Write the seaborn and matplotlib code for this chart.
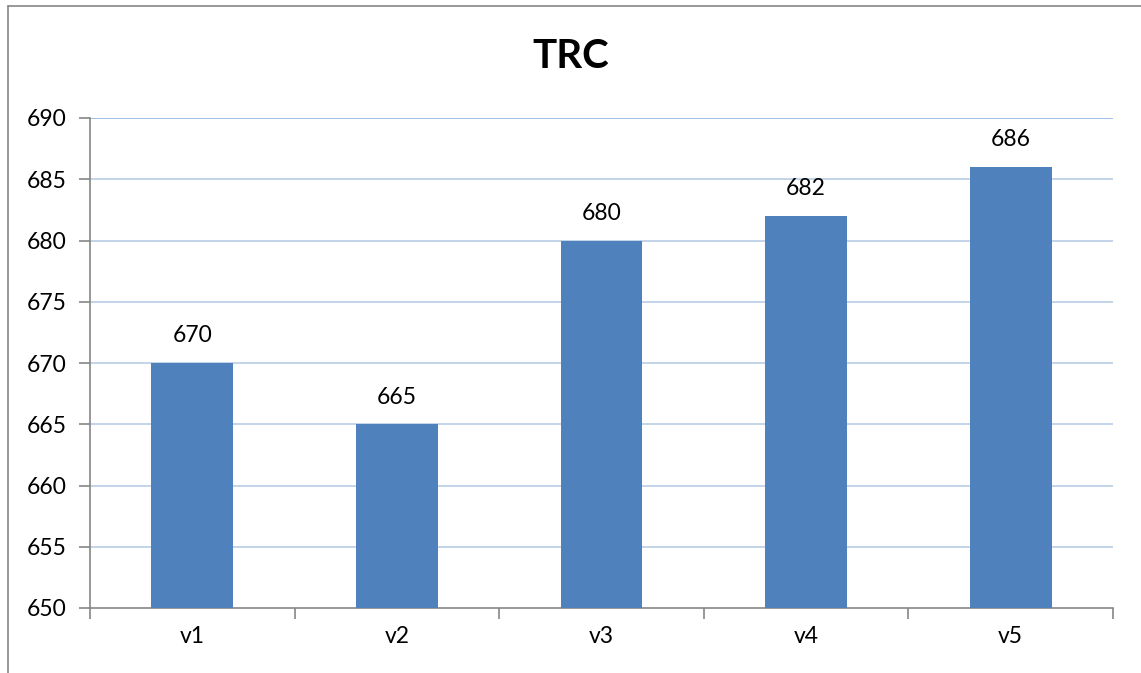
import matplotlib
matplotlib.use("Agg")
import matplotlib.pyplot as plt
from matplotlib.lines import Line2D
import seaborn as sns
import pandas as pd

categories = ["v1", "v2", "v3", "v4", "v5"]
values = [670, 665, 680, 682, 686]
y_ticks = [650, 655, 660, 665, 670, 675, 680, 685, 690]
title = "TRC"

sns.set_theme(style="white")
plt.rcParams["font.family"] = ["Lato", "DejaVu Sans"]

df = pd.DataFrame({"cat": categories, "val": values})

fig = plt.figure(figsize=(11.41, 6.73), dpi=100)
ax = fig.add_axes([90 / 1141, 1 - 608 / 673, (1113 - 90) / 1141, (608 - 118) / 673])

bar_color = "#4F81BD"
sns.barplot(data=df, x="cat", y="val", color=bar_color, width=0.4,
            saturation=1, linewidth=0, edgecolor="none", ax=ax, zorder=3)

ax.set_ylim(650, 690)
ax.set_xlim(-0.5, len(categories) - 0.5)
ax.set_yticks(y_ticks)
ax.set_yticklabels([str(t) for t in y_ticks], fontsize=16.5)
ax.set_xticks(range(len(categories)))
ax.set_xticklabels(categories, fontsize=16.5)
ax.set_xlabel("")
ax.set_ylabel("")

# horizontal gridlines
for t in y_ticks[1:]:
    ax.axhline(t, color="#B9CDE5" if t != 690 else "#8EB4E3", lw=1.2, zorder=1)

# spines
for s in ["top", "right"]:
    ax.spines[s].set_visible(False)
for s in ["left", "bottom"]:
    ax.spines[s].set_color("#868686")
    ax.spines[s].set_linewidth(1.2)

# y ticks outward, x ticks at category boundaries
ax.tick_params(axis="y", which="major", length=8, width=1.2, color="#868686",
               direction="out", left=True, pad=9, labelcolor="black")
ax.tick_params(axis="x", which="major", length=0, pad=13, labelcolor="black")
ax.set_xticks([i - 0.5 for i in range(len(categories) + 1)], minor=True)
ax.tick_params(axis="x", which="minor", length=8, width=1.2, color="#868686",
               direction="out", bottom=True)

# value labels above bars
for i, v in enumerate(values):
    ax.annotate(str(v), (i, v), xytext=(0, 12), textcoords="offset points",
                ha="center", va="bottom", fontsize=16.5, color="black")

fig.text(0.5, 1 - 57 / 673, title, ha="center", va="center",
         fontsize=29, fontweight="bold", color="black")

# outer chart frame (left and top edges)
fig.add_artist(Line2D([8 / 1141, 8 / 1141], [0, 1 - 6 / 673],
                      transform=fig.transFigure, color="#868686", lw=1.2))
fig.add_artist(Line2D([8 / 1141, 1], [1 - 6 / 673, 1 - 6 / 673],
                      transform=fig.transFigure, color="#868686", lw=1.2))

fig.savefig("out.png", dpi=100, facecolor="white")
